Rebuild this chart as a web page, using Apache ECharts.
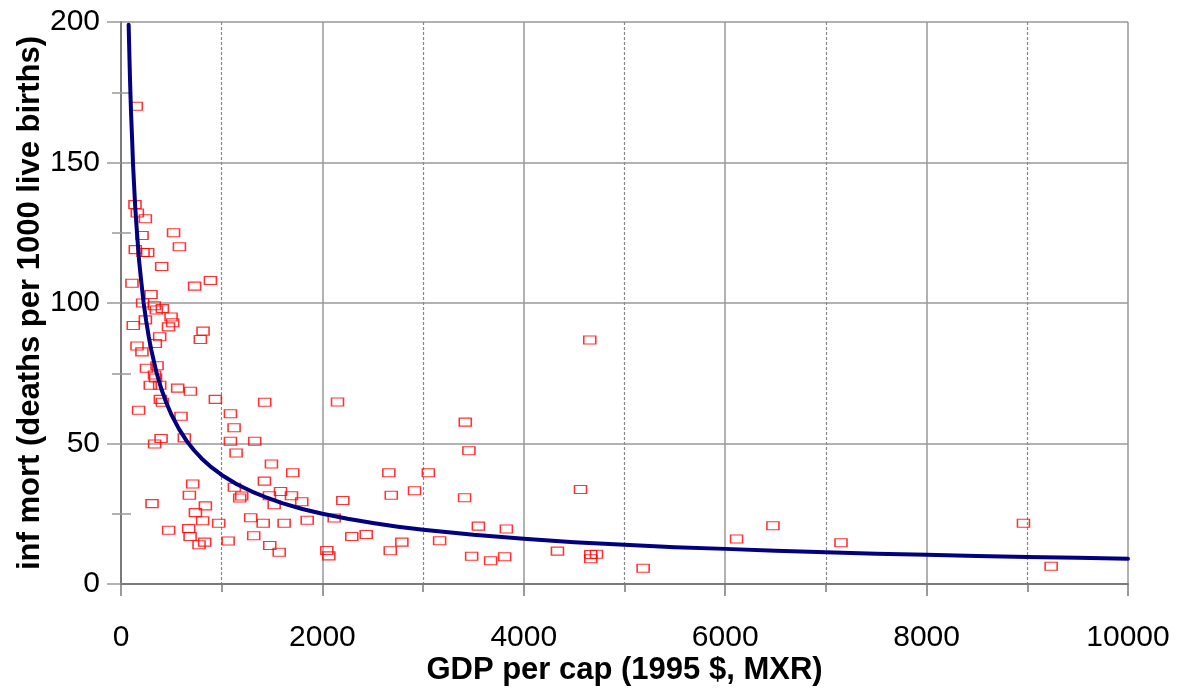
<!DOCTYPE html>
<html>
<head>
<meta charset="utf-8">
<script src="https://cdn.jsdelivr.net/npm/echarts@6/dist/echarts.min.js"></script>
<style>
html,body{margin:0;padding:0;background:#fff;}
#chart{width:1185px;height:690px;}
</style>
</head>
<body>
<div id="chart"></div>
<script>
// GDP per capita (1995 $, MXR) for each country
const gdp = [152,139,162,242,209,522,142,219,265,580,404,109,888,731,298,215,331,351,411,497,
  242,513,122,472,815,788,384,341,159,208,358,253,333,343,291,384,563,689,937,391,
  411,1427,2150,175,596,1087,1123,398,334,629,1087,1328,1143,1494,1706,1424,712,1126,679,1199,
  1179,1474,1584,1693,1521,1795,2203,308,838,739,811,970,1288,1412,1620,1849,2117,473,672,686,
  775,831,1064,1318,1477,1571,2044,2064,2292,2435,3419,3455,2660,3052,2915,2684,3412,4563,3549,3827,
  2789,2674,3164,3482,3671,3810,4334,4665,4665,4722,4655,5185,6113,6474,7150,8962,9237];
// infant mortality (deaths per 1000 live births)
const mort = [170,135,132,130,124,125,119,118,118,120,113,107,108,106,103,100,99,97.5,98,95,
  94,93,92,91.5,90,87,88,85.6,84.7,82.6,77.7,76.8,74.4,73.3,70.7,70.7,69.7,68.6,65.7,65.7,
  64.7,64.7,64.8,61.8,59.7,60.6,55.6,51.8,49.8,52,50.8,50.8,46.6,42.7,39.6,36.6,35.6,34.4,31.6,31.3,
  30.6,31.4,32.9,31.4,28.2,29.3,29.7,28.6,27.8,25.4,22.5,21.6,23.6,21.6,21.6,22.7,23.5,19.1,19.7,16.9,
  14.0,14.9,15.3,17.2,13.7,11.3,11.9,10,16.9,17.6,57.6,47.4,39.6,39.6,33.2,31.6,30.7,33.6,20.6,19.6,
  14.9,11.8,15.4,9.9,8.3,9.7,11.7,10.5,9.0,10.6,86.8,5.6,16.0,20.7,14.7,21.6,6.3];
// trend line
const trendX = [76,80,85,90,95,100,110,120,130,140,150,165,180,200,225,250,275,300,350,400,
  450,500,575,650,725,800,900,1000,1150,1300,1450,1600,1800,2000,2250,2500,2750,3000,3500,4000,
  4500,5000,5500,6000,6500,7000,7500,8000,8500,9000,9500,10000];
const trendY = [199,193,185.7,179,173,167.5,158.6,149,142,135,129.5,122,115,108,100,93.6,88.1,83.4,75.6,69.5,
  64.5,60.3,55.2,51,47.6,44.7,41.5,38.8,35.5,32.9,30.7,28.8,26.7,25,23.2,21.7,20.4,19.3,17.5,16.1,
  14.9,14.0,13.1,12.5,11.8,11.3,10.8,10.4,10.0,9.6,9.3,9.0];
// axis ticks
const xTicks = [0,2000,4000,6000,8000,10000];
const yTicks = [0,50,100,150,200];

const FONT = '"Liberation Sans", Arial, sans-serif';
const scatterData = gdp.map((g,i)=>[g,mort[i]]);
const trendData = trendX.map((x,i)=>[x,trendY[i]]);

const chart = echarts.init(document.getElementById('chart'), null, {renderer:'canvas'});
chart.setOption({
  animation:false,
  backgroundColor:'#fff',
  grid:{left:121,right:57,top:22,bottom:106,containLabel:false,outerBoundsMode:'none'},
  xAxis:{
    type:'value',min:xTicks[0],max:xTicks[xTicks.length-1],interval:2000,
    name:'GDP per cap (1995 $, MXR)',nameLocation:'middle',nameGap:71,nameMoveOverlap:false,
    nameTextStyle:{fontFamily:FONT,fontSize:31,fontWeight:'bold',color:'#000'},
    axisLine:{show:true,lineStyle:{color:'#7a7a7a',width:2}},
    axisTick:{show:true,length:12,lineStyle:{color:'#7a7a7a',width:1.5}},
    minorTick:{show:true,splitNumber:2,length:8,lineStyle:{color:'#7a7a7a',width:1.5}},
    axisLabel:{fontFamily:FONT,fontSize:30,color:'#000',margin:39,formatter:v=>String(v)},
    splitLine:{show:true,lineStyle:{color:'#999',width:1.5,type:'solid'}},
    minorSplitLine:{show:true,lineStyle:{color:'#888',width:1.2,type:[3,2]}}
  },
  yAxis:[{
    type:'value',min:yTicks[0],max:yTicks[yTicks.length-1],interval:50,
    name:'inf mort (deaths per 1000 live births)',nameLocation:'middle',nameGap:75,nameMoveOverlap:false,
    nameTextStyle:{fontFamily:FONT,fontSize:31,fontWeight:'bold',color:'#000'},
    axisLine:{show:true,lineStyle:{color:'#7a7a7a',width:2}},
    axisTick:{show:true,length:14,lineStyle:{color:'#999',width:1.5}},
    minorTick:{show:true,splitNumber:2,length:9,lineStyle:{color:'#999',width:1.5}},
    axisLabel:{fontFamily:FONT,fontSize:30,color:'#000',margin:21,formatter:v=>String(v)},
    splitLine:{show:true,lineStyle:{color:'#999',width:1.5}}
  },{
    type:'value',min:yTicks[0],max:yTicks[yTicks.length-1],interval:50,position:'left',
    axisLine:{show:false},
    axisTick:{show:false,inside:true},
    minorTick:{show:true,splitNumber:2,length:10,lineStyle:{color:'#999',width:1.5}},
    axisLabel:{show:false},
    splitLine:{show:false}
  }],
  series:[{
    type:'scatter',
    data:scatterData,
    symbol:'rect',
    symbolSize:[12,8],
    itemStyle:{color:'rgba(0,0,0,0)',borderColor:'#ff0000',borderWidth:1.3},
    z:2
  },{
    type:'line',
    data:trendData,
    showSymbol:false,
    smooth:false,
    lineStyle:{color:'#000080',width:4,join:'round',cap:'round'},
    z:3
  }]
});
</script>
</body>
</html>
